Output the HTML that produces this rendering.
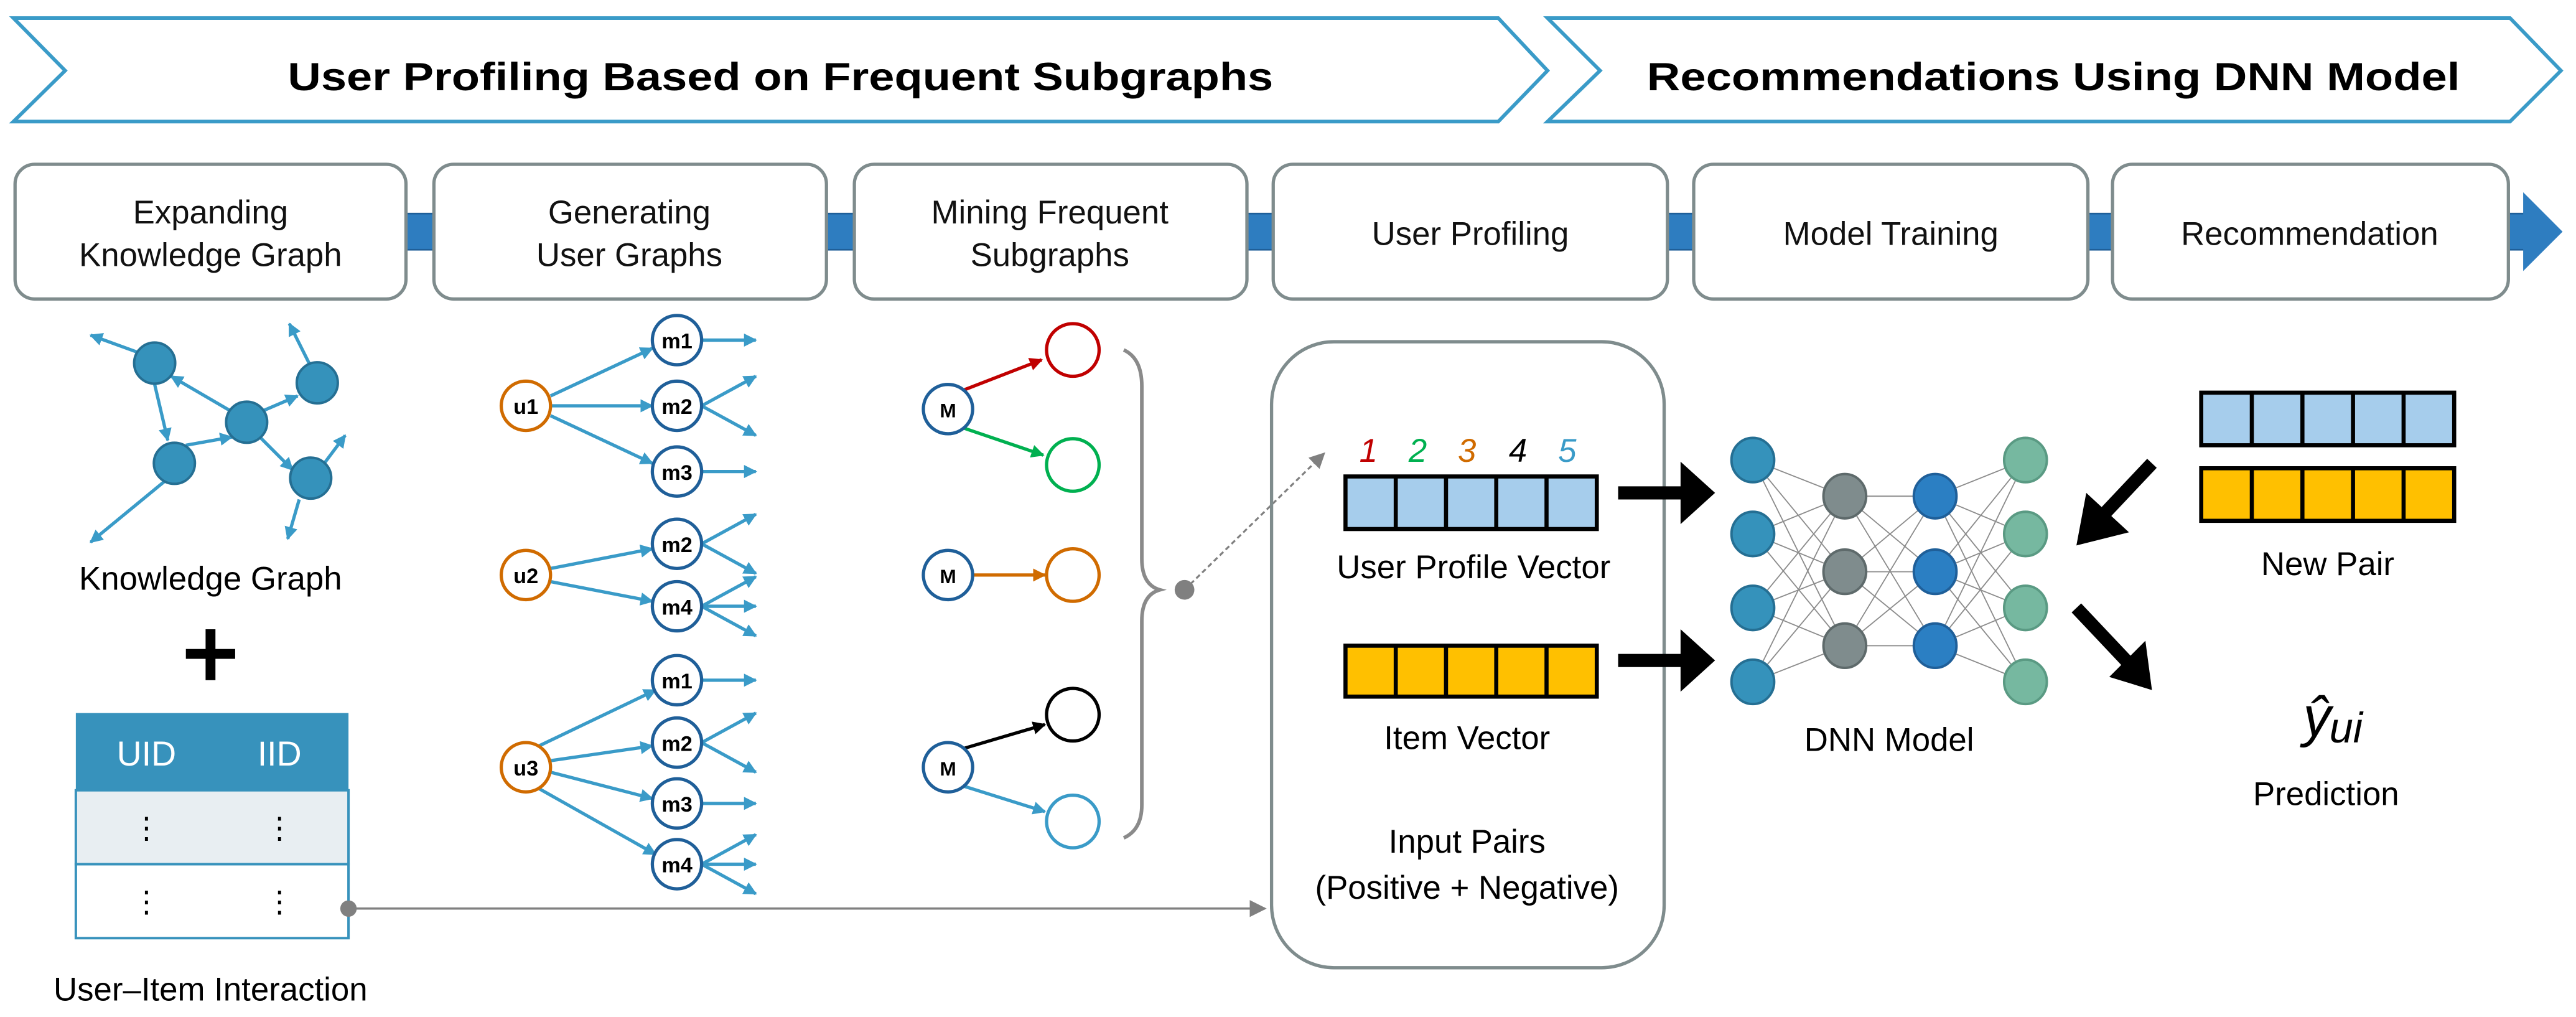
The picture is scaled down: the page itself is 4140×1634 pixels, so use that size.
<!DOCTYPE html>
<html><head><meta charset="utf-8"><style>html,body{margin:0;padding:0;background:#fff}svg{display:block}text{font-family:"Liberation Sans",sans-serif}</style></head><body>
<svg width="4140" height="1634" viewBox="0 0 1568 619" xmlns="http://www.w3.org/2000/svg">
<defs>
<marker id="ab" viewBox="0 0 10 10" refX="9" refY="5" markerWidth="4" markerHeight="4" orient="auto" markerUnits="strokeWidth"><path d="M0,0L10,5L0,10z" fill="#3a9bc8"/></marker>
<marker id="ar" viewBox="0 0 10 10" refX="9" refY="5" markerWidth="4" markerHeight="4" orient="auto" markerUnits="strokeWidth"><path d="M0,0L10,5L0,10z" fill="#c00000"/></marker>
<marker id="ag" viewBox="0 0 10 10" refX="9" refY="5" markerWidth="4" markerHeight="4" orient="auto" markerUnits="strokeWidth"><path d="M0,0L10,5L0,10z" fill="#00b050"/></marker>
<marker id="ao" viewBox="0 0 10 10" refX="9" refY="5" markerWidth="4" markerHeight="4" orient="auto" markerUnits="strokeWidth"><path d="M0,0L10,5L0,10z" fill="#d06b00"/></marker>
<marker id="ak" viewBox="0 0 10 10" refX="9" refY="5" markerWidth="4" markerHeight="4" orient="auto" markerUnits="strokeWidth"><path d="M0,0L10,5L0,10z" fill="#000"/></marker>
<marker id="agr" viewBox="0 0 10 10" refX="9" refY="5" markerWidth="8" markerHeight="8" orient="auto" markerUnits="strokeWidth"><path d="M0,0L10,5L0,10z" fill="#808080"/></marker>
</defs>
<polygon points="8,11 912,11 942,43 912,74 8,74 39.5,43" fill="#fff" stroke="#3a9bc8" stroke-width="2.2"/>
<polygon points="942,11 1528,11 1559,43 1528,74 942,74 974,43" fill="#fff" stroke="#3a9bc8" stroke-width="2.2"/>
<text x="475" y="55" font-size="24" font-weight="bold" text-anchor="middle" textLength="600" lengthAdjust="spacingAndGlyphs">User Profiling Based on Frequent Subgraphs</text>
<text x="1250" y="55" font-size="24" font-weight="bold" text-anchor="middle" textLength="495" lengthAdjust="spacingAndGlyphs">Recommendations Using DNN Model</text>
<rect x="240" y="130" width="1300" height="22" fill="#2e7dc0" stroke="#1f5f99" stroke-width="1"/>
<polygon points="1536,117 1560,141 1536,165" fill="#2e7dc0"/>
<g fill="#fff" stroke="#7f8c8d" stroke-width="2">
<rect x="9" y="100" width="238" height="82" rx="12"/>
<rect x="264" y="100" width="239" height="82" rx="12"/>
<rect x="520" y="100" width="239" height="82" rx="12"/>
<rect x="775" y="100" width="240" height="82" rx="12"/>
<rect x="1031" y="100" width="240" height="82" rx="12"/>
<rect x="1286" y="100" width="241" height="82" rx="12"/>
</g>
<g font-size="20" text-anchor="middle" fill="#111">
<text x="128" y="136">Expanding</text><text x="128" y="162">Knowledge Graph</text>
<text x="383" y="136">Generating</text><text x="383" y="162">User Graphs</text>
<text x="639" y="136">Mining Frequent</text><text x="639" y="162">Subgraphs</text>
<text x="895" y="149">User Profiling</text>
<text x="1151" y="149">Model Training</text>
<text x="1406" y="149">Recommendation</text>
</g>
<g stroke="#3a9bc8" stroke-width="2" marker-end="url(#ab)">
<line x1="88" y1="216" x2="55" y2="204"/>
<line x1="94" y1="234" x2="102" y2="268"/>
<line x1="140" y1="250" x2="104" y2="229"/>
<line x1="160" y1="250" x2="181" y2="241"/>
<line x1="113" y1="271" x2="141" y2="266"/>
<line x1="158" y1="266" x2="178" y2="286"/>
<line x1="195" y1="285" x2="210" y2="265"/>
<line x1="182" y1="304" x2="175" y2="328"/>
<line x1="100" y1="293" x2="55" y2="330"/>
<line x1="188" y1="221" x2="176" y2="197"/>
</g>
<g fill="#3592bb" stroke="#256f93" stroke-width="1.5">
<circle cx="94" cy="221" r="12.5"/><circle cx="193" cy="233" r="12.5"/><circle cx="150" cy="257" r="12.5"/><circle cx="106" cy="282" r="12.5"/><circle cx="189" cy="291" r="12.5"/>
</g>
<text x="128" y="359" font-size="20" text-anchor="middle">Knowledge Graph</text>
<rect x="113" y="395" width="30" height="6" fill="#000"/><rect x="125" y="383" width="6" height="31" fill="#000"/>
<rect x="46" y="434" width="166" height="47" fill="#3792bc"/>
<rect x="46" y="481" width="166" height="45" fill="#e8eef2" stroke="#3792bc" stroke-width="1.5"/>
<rect x="46" y="526" width="166" height="45" fill="#fff" stroke="#3792bc" stroke-width="1.5"/>
<text x="89" y="466" font-size="21" fill="#fff" text-anchor="middle">UID</text>
<text x="170" y="466" font-size="21" fill="#fff" text-anchor="middle">IID</text>
<g font-size="18" text-anchor="middle"><text x="89" y="510">⋮</text><text x="170" y="510">⋮</text><text x="89" y="555">⋮</text><text x="170" y="555">⋮</text></g>
<text x="128" y="609" font-size="20" text-anchor="middle">User–Item Interaction</text>
<line x1="212" y1="553" x2="770" y2="553" stroke="#808080" stroke-width="1.3" marker-end="url(#agr)"/>
<circle cx="212" cy="553" r="5" fill="#808080"/>
<g stroke="#3a9bc8" stroke-width="2" marker-end="url(#ab)">
<line x1="335" y1="241" x2="397" y2="212"/><line x1="335" y1="247" x2="397" y2="247"/><line x1="335" y1="253" x2="397" y2="282"/>
<line x1="427" y1="207" x2="460" y2="207"/><line x1="427" y1="247" x2="460" y2="229"/><line x1="427" y1="247" x2="460" y2="265"/><line x1="427" y1="287" x2="460" y2="287"/>
<line x1="335" y1="346" x2="397" y2="334"/><line x1="335" y1="354" x2="397" y2="366"/>
<line x1="427" y1="331" x2="460" y2="313"/><line x1="427" y1="331" x2="460" y2="349"/>
<line x1="427" y1="369" x2="460" y2="351"/><line x1="427" y1="369" x2="460" y2="369"/><line x1="427" y1="369" x2="460" y2="387"/>
<line x1="328" y1="454" x2="399" y2="420"/><line x1="335" y1="463" x2="397" y2="454"/><line x1="335" y1="470" x2="397" y2="486"/><line x1="328" y1="480" x2="399" y2="520"/>
<line x1="427" y1="414" x2="460" y2="414"/><line x1="427" y1="452" x2="460" y2="434"/><line x1="427" y1="452" x2="460" y2="470"/><line x1="427" y1="489" x2="460" y2="489"/>
<line x1="427" y1="526" x2="460" y2="508"/><line x1="427" y1="526" x2="460" y2="526"/><line x1="427" y1="526" x2="460" y2="544"/>
</g>
<g fill="#fff" stroke-width="2">
<g stroke="#d06b00"><circle cx="320" cy="247" r="15"/><circle cx="320" cy="350" r="15"/><circle cx="320" cy="467" r="15"/></g>
<g stroke="#1f5f99"><circle cx="412" cy="207" r="15"/><circle cx="412" cy="247" r="15"/><circle cx="412" cy="287" r="15"/><circle cx="412" cy="331" r="15"/><circle cx="412" cy="369" r="15"/><circle cx="412" cy="414" r="15"/><circle cx="412" cy="452" r="15"/><circle cx="412" cy="489" r="15"/><circle cx="412" cy="526" r="15"/></g>
</g>
<g font-size="13" text-anchor="middle" font-weight="bold">
<text x="320" y="252">u1</text><text x="320" y="355">u2</text><text x="320" y="472">u3</text>
<text x="412" y="212">m1</text><text x="412" y="252">m2</text><text x="412" y="292">m3</text><text x="412" y="336">m2</text><text x="412" y="374">m4</text><text x="412" y="419">m1</text><text x="412" y="457">m2</text><text x="412" y="494">m3</text><text x="412" y="531">m4</text>
</g>
<line x1="585" y1="238" x2="634" y2="219" stroke="#c00000" stroke-width="2" marker-end="url(#ar)"/>
<line x1="585" y1="260" x2="635" y2="277" stroke="#00b050" stroke-width="2" marker-end="url(#ag)"/>
<line x1="592" y1="350" x2="636" y2="350" stroke="#d06b00" stroke-width="2" marker-end="url(#ao)"/>
<line x1="585" y1="456" x2="636" y2="441" stroke="#000" stroke-width="2" marker-end="url(#ak)"/>
<line x1="585" y1="478" x2="636" y2="494" stroke="#3a9bc8" stroke-width="2" marker-end="url(#ab)"/>
<g fill="#fff" stroke-width="2">
<circle cx="577" cy="249" r="15" stroke="#1f5f99"/><circle cx="577" cy="350" r="15" stroke="#1f5f99"/><circle cx="577" cy="467" r="15" stroke="#1f5f99"/>
<circle cx="653" cy="213" r="16" stroke="#c00000"/><circle cx="653" cy="283" r="16" stroke="#00b050"/><circle cx="653" cy="350" r="16" stroke="#d06b00"/><circle cx="653" cy="435" r="16" stroke="#000"/><circle cx="653" cy="500" r="16" stroke="#3a9bc8"/>
</g>
<g font-size="12" font-weight="bold" text-anchor="middle"><text x="577" y="254">M</text><text x="577" y="355">M</text><text x="577" y="472">M</text></g>
<path d="M684,213 Q695,218 695,235 L695,340 Q695,356 706,359 Q695,362 695,378 L695,490 Q695,505 684,510" fill="none" stroke="#8a8a8a" stroke-width="2.2"/>
<line x1="721" y1="359" x2="806" y2="276" stroke="#808080" stroke-width="1.2" stroke-dasharray="3,2" marker-end="url(#agr)"/>
<circle cx="721" cy="359" r="6" fill="#808080"/>
<rect x="774" y="208" width="239" height="381" rx="38" fill="none" stroke="#7f8c8d" stroke-width="2"/>
<g font-size="20" font-style="italic" text-anchor="middle">
<text x="833" y="281" fill="#c00000">1</text><text x="863" y="281" fill="#00b050">2</text><text x="893" y="281" fill="#d06b00">3</text><text x="924" y="281" fill="#000">4</text><text x="954" y="281" fill="#3a9bc8">5</text>
</g>
<g stroke="#000" stroke-width="2.5">
<rect x="819" y="290" width="153" height="32" fill="#a6cdec"/>
<rect x="819" y="393" width="153" height="31" fill="#ffc000"/>
<line x1="849.6" y1="290" x2="849.6" y2="322"/><line x1="880.2" y1="290" x2="880.2" y2="322"/><line x1="910.8" y1="290" x2="910.8" y2="322"/><line x1="941.4" y1="290" x2="941.4" y2="322"/>
<line x1="849.6" y1="393" x2="849.6" y2="424"/><line x1="880.2" y1="393" x2="880.2" y2="424"/><line x1="910.8" y1="393" x2="910.8" y2="424"/><line x1="941.4" y1="393" x2="941.4" y2="424"/>
</g>
<g font-size="20" text-anchor="middle">
<text x="897" y="352">User Profile Vector</text>
<text x="893" y="456">Item Vector</text>
<text x="893" y="519">Input Pairs</text>
<text x="893" y="547">(Positive + Negative)</text>
</g>
<polygon points="985,296 1023,296 1023,281 1044,300 1023,319 1023,304 985,304" fill="#000"/>
<polygon points="985,398 1023,398 1023,383 1044,402 1023,421 1023,406 985,406" fill="#000"/>
<g stroke="#8c8c8c" stroke-width="0.7">
<path d="M1067,280L1123,302M1067,280L1123,348M1067,280L1123,393M1067,325L1123,302M1067,325L1123,348M1067,325L1123,393M1067,370L1123,302M1067,370L1123,348M1067,370L1123,393M1067,415L1123,302M1067,415L1123,348M1067,415L1123,393"/>
<path d="M1123,302L1178,302M1123,302L1178,348M1123,302L1178,393M1123,348L1178,302M1123,348L1178,348M1123,348L1178,393M1123,393L1178,302M1123,393L1178,348M1123,393L1178,393"/>
<path d="M1178,302L1233,280M1178,302L1233,325M1178,302L1233,370M1178,302L1233,415M1178,348L1233,280M1178,348L1233,325M1178,348L1233,370M1178,348L1233,415M1178,393L1233,280M1178,393L1233,325M1178,393L1233,370M1178,393L1233,415"/>
</g>
<g stroke-width="1.5">
<g fill="#3592bb" stroke="#256f93"><ellipse cx="1067" cy="280" rx="13" ry="13.5"/><ellipse cx="1067" cy="325" rx="13" ry="13.5"/><ellipse cx="1067" cy="370" rx="13" ry="13.5"/><ellipse cx="1067" cy="415" rx="13" ry="13.5"/></g>
<g fill="#7f8c8d" stroke="#5e6a6b"><ellipse cx="1123" cy="302" rx="13" ry="13.5"/><ellipse cx="1123" cy="348" rx="13" ry="13.5"/><ellipse cx="1123" cy="393" rx="13" ry="13.5"/></g>
<g fill="#2b7fc3" stroke="#1f5f99"><ellipse cx="1178" cy="302" rx="13" ry="13.5"/><ellipse cx="1178" cy="348" rx="13" ry="13.5"/><ellipse cx="1178" cy="393" rx="13" ry="13.5"/></g>
<g fill="#76b8a0" stroke="#5a9a83"><ellipse cx="1233" cy="280" rx="13" ry="13.5"/><ellipse cx="1233" cy="325" rx="13" ry="13.5"/><ellipse cx="1233" cy="370" rx="13" ry="13.5"/><ellipse cx="1233" cy="415" rx="13" ry="13.5"/></g>
</g>
<text x="1150" y="457" font-size="20" text-anchor="middle">DNN Model</text>
<g stroke="#000" stroke-width="2.5">
<rect x="1340" y="239" width="154" height="32" fill="#a6cdec"/>
<rect x="1340" y="285" width="154" height="32" fill="#ffc000"/>
<line x1="1370.8" y1="239" x2="1370.8" y2="271"/><line x1="1401.6" y1="239" x2="1401.6" y2="271"/><line x1="1432.4" y1="239" x2="1432.4" y2="271"/><line x1="1463.2" y1="239" x2="1463.2" y2="271"/>
<line x1="1370.8" y1="285" x2="1370.8" y2="317"/><line x1="1401.6" y1="285" x2="1401.6" y2="317"/><line x1="1432.4" y1="285" x2="1432.4" y2="317"/><line x1="1463.2" y1="285" x2="1463.2" y2="317"/>
</g>
<text x="1417" y="350" font-size="20" text-anchor="middle">New Pair</text>
<line x1="1310" y1="282" x2="1276" y2="318" stroke="#000" stroke-width="8"/>
<polygon points="1264,332 1270,300 1296,324" fill="#000"/>
<line x1="1264" y1="370" x2="1298" y2="406" stroke="#000" stroke-width="8"/>
<polygon points="1310,420 1284,412 1306,390" fill="#000"/>
<text x="1402" y="448" font-size="34" font-style="italic" font-family="Liberation Serif,serif">ŷ</text>
<text x="1418" y="452" font-size="26" font-style="italic" font-family="Liberation Serif,serif">ui</text>
<text x="1416" y="490" font-size="20" text-anchor="middle">Prediction</text>
</svg>
</body></html>
